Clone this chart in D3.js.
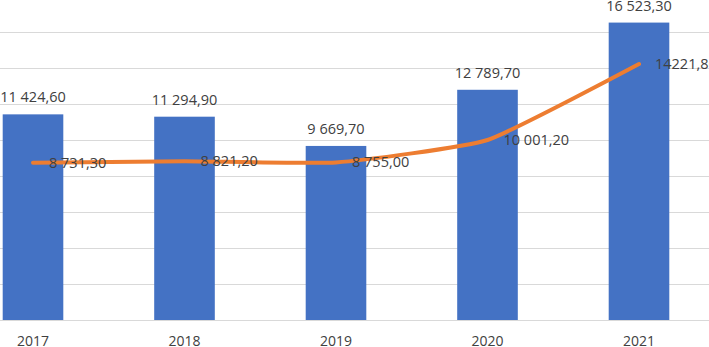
<!DOCTYPE html>
<html>
<head>
<meta charset="utf-8">
<script src="https://cdn.jsdelivr.net/npm/d3@7"></script>
<style>
    body { margin: 0; background: #fff; }
    #chart { width: 709px; height: 347px; overflow: hidden; }
    text { font-family: "Open Sans", sans-serif; fill: #404040; }
</style>
</head>
<body>
<div id="chart"></div>
<script>
const years = ['2017', '2018', '2019', '2020', '2021'];
const barValues = [11424.6, 11294.9, 9669.7, 12789.7, 16523.3];
const lineValues = [8731.3, 8821.2, 8755.0, 10001.2, 14221.8];
const barLabels = ['11 424,60', '11 294,90', '9 669,70', '12 789,70', '16 523,30'];
const lineLabels = ['8 731,30', '8 821,20', '8 755,00', '10 001,20', '14221,80'];
const gridTicks = [0, 2000, 4000, 6000, 8000, 10000, 12000, 14000, 16000, 18000];

const width = 709;
const height = 347;

const svg = d3.select('#chart').append('svg')
    .attr('width', width)
    .attr('height', height);

const x = d3.scaleBand()
    .domain(years)
    .range([-42.75, 714.75])
    .paddingInner(0.6)
    .paddingOuter(0.3);

const y = d3.scaleLinear()
    .domain([0, 18000])
    .range([320, -4]);

// gridlines
svg.append('g')
    .selectAll('line')
    .data(gridTicks)
    .enter()
    .append('line')
    .attr('x1', 0)
    .attr('x2', width)
    .attr('y1', d => Math.round(y(d)) + 0.5)
    .attr('y2', d => Math.round(y(d)) + 0.5)
    .attr('stroke', '#d9d9d9')
    .attr('stroke-width', 1);

// bars
svg.selectAll('.bar')
    .data(barValues)
    .enter()
    .append('rect')
    .attr('class', 'bar')
    .attr('x', (d, i) => x(years[i]))
    .attr('width', x.bandwidth())
    .attr('y', d => y(d))
    .attr('height', d => y(0) - y(d))
    .attr('fill', '#4472c4');

const cx = i => x(years[i]) + x.bandwidth() / 2;

// smoothed line (excel-style, fairly tight)
const line = d3.line()
    .x((d, i) => cx(i))
    .y(d => y(d))
    .curve(d3.curveCardinal.tension(0.55));

svg.append('path')
    .datum(lineValues)
    .attr('d', line)
    .attr('fill', 'none')
    .attr('stroke', '#ed7d31')
    .attr('stroke-width', 4)
    .attr('stroke-linecap', 'round');

// bar labels
svg.selectAll('.bar-label')
    .data(barValues)
    .enter()
    .append('text')
    .attr('class', 'bar-label')
    .attr('x', (d, i) => cx(i))
    .attr('y', d => y(d) - 12)
    .attr('text-anchor', 'middle')
    .style('font-size', '14.5px')
    .text((d, i) => barLabels[i]);

// line labels
svg.selectAll('.line-label')
    .data(lineValues)
    .enter()
    .append('text')
    .attr('class', 'line-label')
    .attr('x', (d, i) => cx(i) + 16)
    .attr('y', d => y(d) + 5)
    .attr('text-anchor', 'start')
    .style('font-size', '14.5px')
    .text((d, i) => lineLabels[i]);

// category axis
svg.append('g')
    .selectAll('text')
    .data(years)
    .enter()
    .append('text')
    .attr('x', (d, i) => cx(i))
    .attr('y', 346)
    .attr('text-anchor', 'middle')
    .style('font-size', '14px')
    .text(d => d);
</script>
</body>
</html>
